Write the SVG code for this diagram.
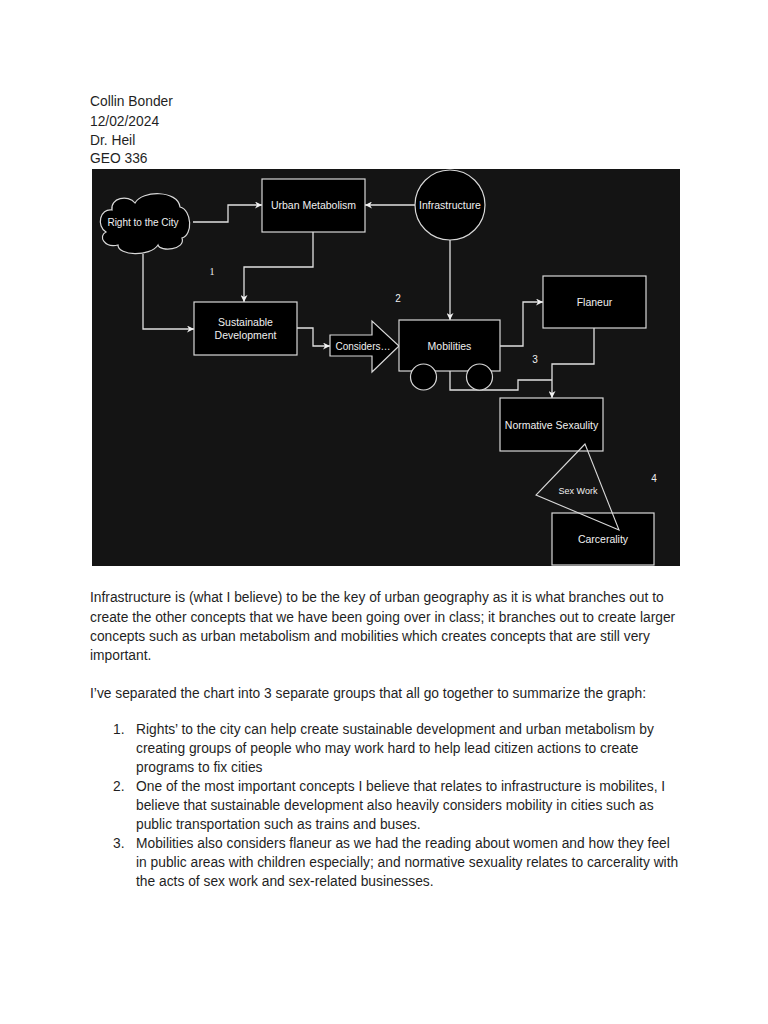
<svg xmlns="http://www.w3.org/2000/svg" width="768" height="1024" viewBox="0 0 768 1024">
<defs>
<style>
.doc{font-family:"Liberation Sans",Arial,sans-serif;font-size:13.8px;fill:#1f1f1f}
.box{fill:#000;stroke:#d8d8d8;stroke-width:1.2}
.lbl{font-family:"Liberation Sans",Arial,sans-serif;font-size:10.5px;fill:#f0f0f0;text-anchor:middle;dominant-baseline:central}
.num{font-family:"Liberation Sans",Arial,sans-serif;font-size:10px;fill:#f0f0f0;text-anchor:middle;dominant-baseline:central}
.conn{fill:none;stroke:#e0e0e0;stroke-width:1.3}
</style>
<marker id="ah" viewBox="0 0 10 10" refX="10" refY="5" markerWidth="7" markerHeight="7" markerUnits="userSpaceOnUse" orient="auto">
<path d="M0,0 L10,5 L0,10 L3,5 Z" fill="#f0f0f0"/>
</marker>
</defs>
<rect width="768" height="1024" fill="#fff"/>
<g id="header">
<text class="doc" x="90" y="106">Collin Bonder</text>
<text class="doc" x="90" y="126">12/02/2024</text>
<text class="doc" x="90" y="145">Dr. Heil</text>
<text class="doc" x="90" y="163">GEO 336</text>
</g>
<rect id="panel" x="92" y="169" width="588" height="397" fill="#141414"/>
<g id="connectors">
<path class="conn" d="M193,222 H228 V205 H262" marker-end="url(#ah)"/>
<path class="conn" d="M143,254 V329 H194" marker-end="url(#ah)"/>
<path class="conn" d="M313,232 V267 H244 V302" marker-end="url(#ah)"/>
<path class="conn" d="M415,205 H365" marker-end="url(#ah)"/>
<path class="conn" d="M450,240 V320" marker-end="url(#ah)"/>
<path class="conn" d="M297,328 H313 V346 H330" marker-end="url(#ah)"/>
<path class="conn" d="M500,346 H523 V302 H543" marker-end="url(#ah)"/>
<path class="conn" d="M450,371 V390 H518 V380 H552"/>
<path class="conn" d="M594,328 V364 H552 V398" marker-end="url(#ah)"/>
</g>
<g id="right-to-the-city">
<path class="box" d="M112,210 C110,198 128,194 135,203 C142,190 178,190 180,207 C192,210 193,235 182,238 C186,250 160,252 158,245 C150,257 118,256 118,245 C104,248 98,236 106,232 C96,226 100,208 112,210 Z"/>
<text class="lbl" x="143" y="222" style="font-size:10px">Right to the City</text>
</g>
<g id="urban-metabolism">
<rect class="box" x="262" y="179" width="103" height="53"/>
<text class="lbl" x="313.5" y="205">Urban Metabolism</text>
</g>
<g id="infrastructure">
<circle class="box" cx="450" cy="205" r="35"/>
<text class="lbl" x="450" y="205">Infrastructure</text>
</g>
<g id="sustainable-development">
<rect class="box" x="194" y="302" width="103" height="53"/>
<text class="lbl" x="245.5" y="322">Sustainable</text>
<text class="lbl" x="245.5" y="335">Development</text>
</g>
<g id="considers">
<path class="box" d="M330,335 H372 V321 L399,346 L372,372 V356 H330 Z"/>
<text class="lbl" x="363" y="346" style="font-size:10px">Considers…</text>
</g>
<g id="mobilities">
<rect class="box" x="399" y="320" width="101" height="51"/>
<circle class="box" cx="423.5" cy="377" r="13"/>
<circle class="box" cx="479.5" cy="377" r="13"/>
<text class="lbl" x="449.5" y="346">Mobilities</text>
</g>
<g id="flaneur">
<rect class="box" x="543" y="276" width="103" height="52"/>
<text class="lbl" x="594.5" y="302">Flaneur</text>
</g>
<g id="normative-sexuality">
<rect class="box" x="500" y="398" width="103" height="53"/>
<text class="lbl" x="551.5" y="425">Normative Sexaulity</text>
</g>
<g id="carcerality">
<rect class="box" x="552" y="513" width="102" height="52"/>
<text class="lbl" x="603" y="539">Carcerality</text>
</g>
<g id="sex-work">
<path d="M585,444 L536,495 L619,530 Z" fill="none" stroke="#d8d8d8" stroke-width="1.1"/>
<text class="lbl" x="578" y="491" style="font-size:9px">Sex Work</text>
</g>
<g id="numbers">
<text class="num" x="212" y="271" style="font-family:'Liberation Serif',serif">1</text>
<text class="num" x="398" y="298">2</text>
<text class="num" x="535" y="359">3</text>
<text class="num" x="654" y="478">4</text>
</g>
<g id="body">
<text class="doc" x="90" y="602">Infrastructure is (what I believe) to be the key of urban geography as it is what branches out to</text>
<text class="doc" x="90" y="622">create the other concepts that we have been going over in class; it branches out to create larger</text>
<text class="doc" x="90" y="641">concepts such as urban metabolism and mobilities which creates concepts that are still very</text>
<text class="doc" x="90" y="660">important.</text>
<text class="doc" x="90" y="698">I’ve separated the chart into 3 separate groups that all go together to summarize the graph:</text>
<text class="doc" x="113" y="734">1.</text>
<text class="doc" x="136" y="734">Rights’ to the city can help create sustainable development and urban metabolism by</text>
<text class="doc" x="136" y="753">creating groups of people who may work hard to help lead citizen actions to create</text>
<text class="doc" x="136" y="772">programs to fix cities</text>
<text class="doc" x="113" y="791">2.</text>
<text class="doc" x="136" y="791">One of the most important concepts I believe that relates to infrastructure is mobilites, I</text>
<text class="doc" x="136" y="810">believe that sustainable development also heavily considers mobility in cities such as</text>
<text class="doc" x="136" y="829">public transportation such as trains and buses.</text>
<text class="doc" x="113" y="848">3.</text>
<text class="doc" x="136" y="848">Mobilities also considers flaneur as we had the reading about women and how they feel</text>
<text class="doc" x="136" y="867">in public areas with children especially; and normative sexuality relates to carcerality with</text>
<text class="doc" x="136" y="886">the acts of sex work and sex-related businesses.</text>
</g>
</svg>
